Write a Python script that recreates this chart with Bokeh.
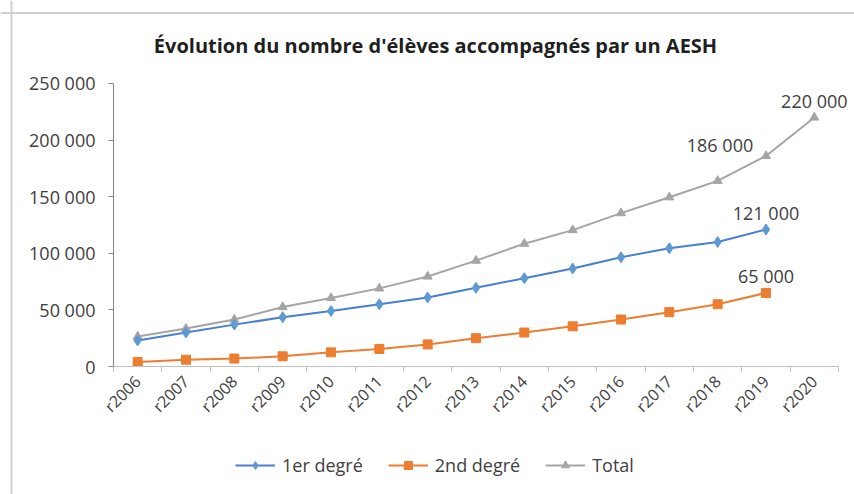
import math
from bokeh.plotting import figure
from bokeh.models import (ColumnDataSource, FixedTicker, LabelSet, Label, Legend,
                          LegendItem, Range1d, Span)
from bokeh.core.properties import value
from bokeh.embed import file_html
from bokeh.resources import INLINE

# ---- data ----
years = ["r2006", "r2007", "r2008", "r2009", "r2010", "r2011", "r2012", "r2013",
         "r2014", "r2015", "r2016", "r2017", "r2018", "r2019", "r2020"]
premier_degre = [23000, 30000, 37000, 43500, 49000, 55000, 61000, 69500,
                 78000, 86500, 96500, 104500, 110000, 121000]
second_degre = [4000, 6000, 7000, 9000, 12500, 15500, 19500, 25000,
                30000, 35500, 41500, 48000, 55000, 65000]
total = [26500, 33500, 41500, 52500, 60500, 69000, 79500, 93500,
         108500, 120500, 135500, 149500, 164000, 186000, 220000]
y_ticks = [0, 50000, 100000, 150000, 200000, 250000]
y_tick_labels = ["0", "50 000", "100 000", "150 000", "200 000", "250 000"]
annot_year = ["r2019", "r2019", "r2019", "r2020"]
annot_value = [121000, 65000, 186000, 220000]
annot_text = ["121 000", "65 000", "186 000", "220 000"]
title_text = "Évolution du nombre d'élèves accompagnés par un AESH"
series_names = ["1er degré", "2nd degré", "Total"]

FONT = "Open Sans"
TXT = "#404040"
BLUE, BLUE_LINE = "#5B9BD5", "#4A7FCF"
ORANGE = "#ED7D31"
GREY = "#A5A5A5"

W, H = 854, 494
xpos = {y: i + 0.5 for i, y in enumerate(years)}

# the frame covers the whole canvas; both axes are pinned at 0
p = figure(width=W, height=H, output_backend="svg", toolbar_location=None,
           x_range=Range1d(-2.338, 15.331), y_range=Range1d(-113074, 323321),
           min_border_left=0, min_border_right=0, min_border_top=0,
           min_border_bottom=0)
p.outline_line_color = None
p.xgrid.visible = False
p.ygrid.visible = False

# chart border (Excel chart area)
p.add_layout(Span(location=11, location_units="screen", dimension="height",
                  line_color="#CFCFCF", line_width=2))
p.add_layout(Span(location=H - 12.5, location_units="screen", dimension="width",
                  line_color="#CFCFCF", line_width=2))

src1 = ColumnDataSource(dict(x=[xpos[y] for y in years[:len(premier_degre)]], y=premier_degre))
src2 = ColumnDataSource(dict(x=[xpos[y] for y in years[:len(second_degre)]], y=second_degre))
src3 = ColumnDataSource(dict(x=[xpos[y] for y in years[:len(total)]], y=total))

l3 = p.line("x", "y", source=src3, line_color=GREY, line_width=2)
m3 = p.scatter("x", "y", source=src3, marker="triangle", size=9, fill_color=GREY, line_color=GREY)
l1 = p.line("x", "y", source=src1, line_color=BLUE_LINE, line_width=2)
m1 = p.scatter("x", "y", source=src1, marker="diamond", size=11, fill_color=BLUE, line_color=BLUE)
l2 = p.line("x", "y", source=src2, line_color=ORANGE, line_width=2)
m2 = p.scatter("x", "y", source=src2, marker="square", size=9, fill_color=ORANGE, line_color=ORANGE)

# data labels
asrc = ColumnDataSource(dict(x=[xpos[y] for y in annot_year], y=annot_value, text=annot_text,
                             xo=[0, 0, -46, 0], yo=[17, 17, 11, 16]))
labels = LabelSet(x="x", y="y", text="text", source=asrc, x_offset="xo", y_offset="yo",
                  text_align="center", text_baseline="middle", text_font=value(FONT),
                  text_font_size="18px", text_color=TXT)
p.add_layout(labels)

# axes
xa = p.xaxis[0]
xa.fixed_location = 0
xa.ticker = FixedTicker(ticks=[xpos[y] for y in years], minor_ticks=list(range(len(years) + 1)))
xa.major_label_overrides = {xpos[y]: y for y in years}
xa.major_tick_line_color = None
xa.minor_tick_line_color = "#BFBFBF"
xa.minor_tick_out = 5
xa.minor_tick_in = 0
xa.axis_line_color = "#BFBFBF"
xa.bounds = (0, len(years))
xa.major_label_orientation = math.pi / 4
xa.major_label_text_font = FONT
xa.major_label_text_font_size = "16px"
xa.major_label_text_color = TXT
xa.major_label_standoff = 6

ya = p.yaxis[0]
ya.fixed_location = 0
ya.ticker = FixedTicker(ticks=y_ticks)
ya.bounds = (0, 250000)
ya.major_label_overrides = {t: s for t, s in zip(y_ticks, y_tick_labels)}
ya.major_tick_out = 5
ya.major_tick_in = 0
ya.major_tick_line_color = "#868686"
ya.axis_line_color = "#868686"
ya.minor_tick_line_color = None
ya.major_label_text_font = FONT
ya.major_label_text_font_size = "18px"
ya.major_label_text_color = TXT
ya.major_label_standoff = 13

# title (screen units: x from left, y from bottom)
p.add_layout(Label(x=435, y=H - 45, x_units="screen", y_units="screen", text=title_text,
                   text_align="center", text_baseline="middle", text_font=FONT,
                   text_font_size="20px", text_font_style="bold", text_color="#1F1F1F"))

legend = Legend(items=[LegendItem(label=series_names[0], renderers=[l1, m1]),
                       LegendItem(label=series_names[1], renderers=[l2, m2]),
                       LegendItem(label=series_names[2], renderers=[l3, m3])],
                orientation="horizontal", location=(235, 17), padding=5,
                border_line_color=None, background_fill_alpha=0,
                label_text_font=FONT, label_text_font_size="18px", label_text_color=TXT,
                glyph_width=40, spacing=25, label_standoff=7)
p.add_layout(legend)

open("out.html", "w").write(file_html(p, INLINE))
